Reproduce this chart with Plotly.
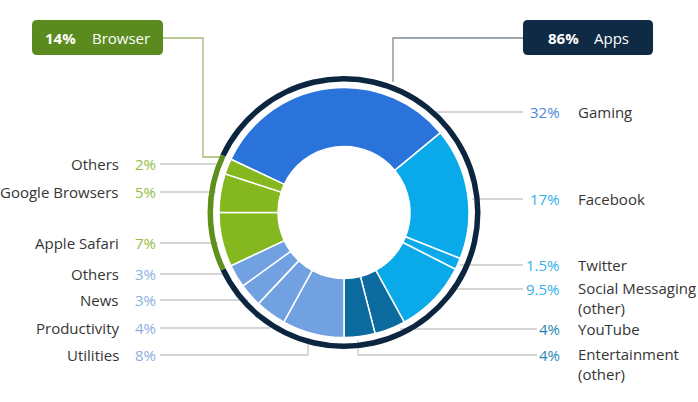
import plotly.graph_objects as go

# ---------------- data ----------------
categories = ["Gaming", "Facebook", "Twitter", "Social Messaging (other)", "YouTube",
              "Entertainment (other)", "Utilities", "Productivity", "News", "Others",
              "Apple Safari", "Google Browsers", "Others"]
values = [32, 17, 1.5, 9.5, 4, 4, 8, 4, 3, 3, 7, 5, 2]
value_labels = ["32%", "17%", "1.5%", "9.5%", "4%", "4%", "8%", "4%", "3%", "3%", "7%", "5%", "2%"]
groups = ["Apps", "Browser"]
group_values = [86, 14]
group_labels = ["86%", "14%"]

# ---------------- style ----------------
W, H = 698, 402
CX, CY = 344, 212.5
R_PIE, R_HOLE = 125, 66
R_RING_OUT, R_RING_IN = 136.5, 131
ROT = -64.8
FS = 15

slice_colors = ["#2a73da", "#0aa9ea", "#0aa9ea", "#0aa9ea", "#0b6a9e", "#0b6a9e",
                "#72a1e2", "#72a1e2", "#72a1e2", "#72a1e2", "#84b81e", "#84b81e", "#84b81e"]
pct_colors = ["#4a88d8", "#35b0e8", "#35b0e8", "#35b0e8", "#2e86b6", "#2e86b6",
              "#8daee0", "#8daee0", "#8daee0", "#8daee0", "#95bd47", "#95bd47", "#95bd47"]
ring_colors = ["#0d2640", "#5f901b"]
box_colors = ["#0f2a45", "#5b8a1e"]
TXT = "#353535"
LINE = "#c9c9c9"
FONT = "Open Sans"


def px(x):
    return x / W


def py(y):
    return 1 - y / H


def dom(r):
    return dict(x=[px(CX - r), px(CX + r)], y=[py(CY + r), py(CY - r)])


fig = go.Figure()
fig.add_trace(go.Pie(
    values=group_values, labels=groups, sort=False, direction="clockwise", rotation=ROT,
    hole=R_RING_IN / R_RING_OUT, domain=dom(R_RING_OUT),
    marker=dict(colors=ring_colors, line=dict(width=0)),
    textinfo="none", hoverinfo="skip", showlegend=False))
fig.add_trace(go.Pie(
    values=values, labels=[f"{c} {i}" for i, c in enumerate(categories)], sort=False,
    direction="clockwise", rotation=ROT,
    hole=R_HOLE / R_PIE, domain=dom(R_PIE),
    marker=dict(colors=slice_colors, line=dict(color="white", width=1.5)),
    textinfo="none", hoverinfo="skip", showlegend=False))

shapes = []
annotations = []


def line(points, color=LINE, width=1.3):
    d = "M " + " L ".join(f"{px(x)},{py(y)}" for x, y in points)
    shapes.append(dict(type="path", path=d, xref="paper", yref="paper",
                       line=dict(color=color, width=width), layer="below"))


def rbox(x0, y0, x1, y1, color, r=5):
    rx, ry = r / W, r / H
    X0, X1, Y0, Y1 = px(x0), px(x1), py(y1), py(y0)
    d = (f"M {X0+rx},{Y0} L {X1-rx},{Y0} Q {X1},{Y0} {X1},{Y0+ry} "
         f"L {X1},{Y1-ry} Q {X1},{Y1} {X1-rx},{Y1} L {X0+rx},{Y1} "
         f"Q {X0},{Y1} {X0},{Y1-ry} L {X0},{Y0+ry} Q {X0},{Y0} {X0+rx},{Y0} Z")
    shapes.append(dict(type="path", path=d, xref="paper", yref="paper",
                       fillcolor=color, line=dict(width=0)))


def text(x, y, s, color, anchor, size=FS, bold=False):
    annotations.append(dict(x=px(x), y=py(y), xref="paper", yref="paper", text=s,
                            showarrow=False, xanchor=anchor, yanchor="middle", align="left",
                            font=dict(family=FONT, size=size, color=color,
                                      weight="bold" if bold else "normal")))


# group boxes
rbox(32, 20, 163, 55, box_colors[1])
text(78, 38, group_labels[1], "white", "right", bold=True)
text(90, 38, groups[1], "white", "left")
line([(163, 38), (203, 38), (203, 157), (222, 157)], color="#a3b877", width=1.3)

rbox(523, 20, 653, 55, box_colors[0])
text(581, 38, group_labels[0], "white", "right", bold=True)
text(592, 38, groups[0], "white", "left")
line([(523, 38), (393, 38), (393, 82)], color="#7f8a94", width=1.3)

# right-side labels: (index, y, line start x, line end x)
right = [(0, 112, 432, 523), (1, 199, 472, 523), (2, 265, 460, 523),
         (3, 289, 456, 523), (4, 329, 400, 537), (5, 355, 358, 537)]
for i, y, xs, xe in right:
    text(562, y, value_labels[i], pct_colors[i], "right")
    name = categories[i].replace(" (other)", "<br>(other)")
    if "<br>" in name:
        annotations.append(dict(x=px(576), y=py(y - 13), xref="paper", yref="paper", text=name,
                                showarrow=False, xanchor="left", yanchor="top", align="left",
                                font=dict(family=FONT, size=FS, color=TXT)))
    else:
        text(576, y, name, TXT, "left")
    if i == 5:
        line([(xs, 340), (xs, y), (xe, y)])
    else:
        line([(xs, y), (xe, y)])

# left-side labels
left = [(12, 164, 222), (11, 192, 216), (10, 243, 218), (9, 274, 224),
        (8, 300, 248), (7, 328, 270), (6, 355, 308)]
for i, y, xe in left:
    text(121, y, categories[i], TXT, "right")
    text(133, y, value_labels[i], pct_colors[i], "left")
    if i == 6:
        line([(160, y), (xe, y), (xe, 339)])
    else:
        line([(160, y), (xe, y)])

fig.update_layout(width=W, height=H, margin=dict(l=0, r=0, t=0, b=0),
                  paper_bgcolor="white", plot_bgcolor="white",
                  shapes=shapes, annotations=annotations, showlegend=False)
fig.write_html("out.html", config={"displayModeBar": False},
               post_script="document.body.style.margin='0';document.body.style.overflow='hidden';")
